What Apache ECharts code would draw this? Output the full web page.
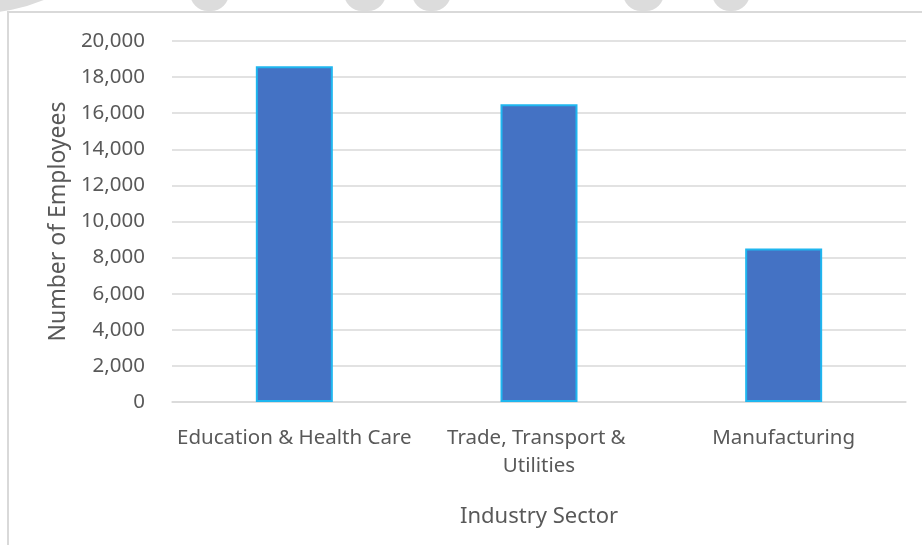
<!DOCTYPE html>
<html>
<head>
<meta charset="utf-8">
<script src="https://cdn.jsdelivr.net/npm/echarts@6/dist/echarts.min.js"></script>
<style>
  html, body { margin: 0; padding: 0; background: #fff; }
  #chart { width: 922px; height: 545px; }
</style>
</head>
<body>
<div id="chart"></div>
<script>
const categories = ['Education & Health Care', 'Trade, Transport & Utilities', 'Manufacturing'];
const employees = [18600, 16500, 8500];
const yMin = 0;
const yMax = 20000;
const yStep = 2000;

const textColor = '#595959';
const lineColor = '#d9d9d9';
const fontFamily = '"Noto Sans", "Open Sans", sans-serif';

// grey watermark pieces peeking in at the top edge
const blobs = [[190, 39], [344, 42], [412, 39], [623, 41], [712, 38]];

const chart = echarts.init(document.getElementById('chart'));
const options = {
  animation: false,
  grid: {
    left: 172,
    right: 16,
    top: 41,
    bottom: 143,
  },
  graphic: [
    {
      type: 'rect',
      shape: { x: 8, y: 12, width: 940, height: 560 },
      style: { fill: 'none', stroke: lineColor, lineWidth: 2 },
      silent: true,
    },
    {
      type: 'circle',
      shape: { cx: -20, cy: -150, r: 163 },
      style: { fill: '#dcdcdc' },
      silent: true,
    },
  ].concat(blobs.map((b) => ({
    type: 'rect',
    shape: { x: b[0], y: -12, width: b[1], height: 23, r: [0, 0, 18, 18] },
    style: { fill: '#dcdcdc' },
    silent: true,
  }))),
  xAxis: {
    type: 'category',
    data: categories,
    name: 'Industry Sector',
    nameLocation: 'middle',
    nameGap: 104,
    nameTextStyle: { color: textColor, fontSize: 22, fontFamily },
    axisTick: { show: false },
    axisLine: { lineStyle: { color: lineColor, width: 1.5 } },
    axisLabel: {
      color: textColor,
      fontSize: 20.5,
      fontFamily,
      interval: 0,
      margin: 22,
      lineHeight: 28,
      width: 244,
      overflow: 'break',
    },
  },
  yAxis: {
    type: 'value',
    min: yMin,
    max: yMax,
    interval: yStep,
    name: 'Number of Employees',
    nameLocation: 'middle',
    nameGap: 97,
    nameRotate: 90,
    nameTextStyle: { color: textColor, fontSize: 23, fontFamily },
    axisLine: { show: false },
    axisTick: { show: false },
    axisLabel: {
      color: textColor,
      fontSize: 20.5,
      fontFamily,
      margin: 27,
      formatter: (v) => v.toLocaleString('en-US'),
    },
    splitLine: { lineStyle: { color: lineColor, width: 1.5 } },
  },
  series: [
    {
      type: 'bar',
      data: employees,
      barWidth: 77,
      itemStyle: {
        color: '#4472C4',
        borderColor: '#1FB6EF',
        borderWidth: 2,
      },
    },
  ],
};
chart.setOption(options);
</script>
</body>
</html>
